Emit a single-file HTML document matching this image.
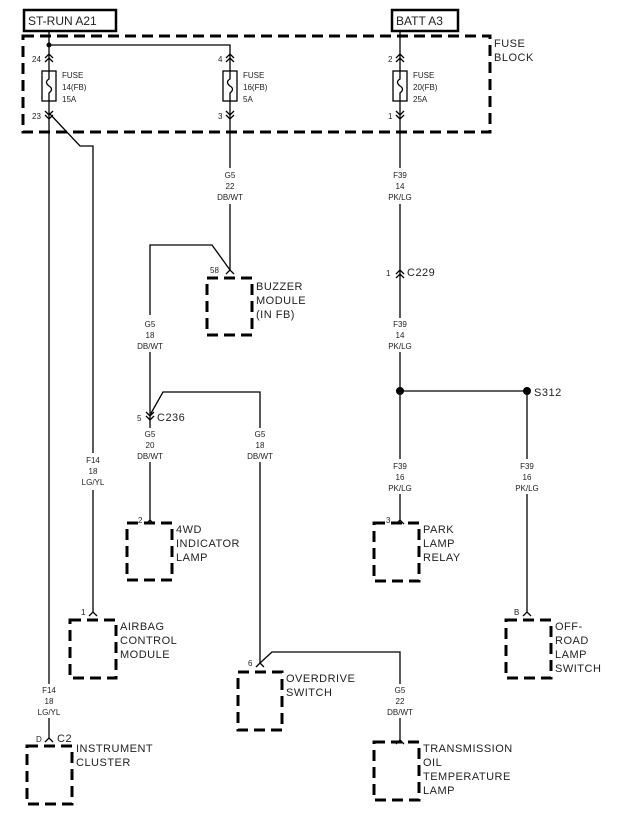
<!DOCTYPE html>
<html><head><meta charset="utf-8"><style>
html,body{margin:0;padding:0;background:#fff}
svg{display:block}
text{font-family:"Liberation Sans",sans-serif;fill:#222}
.s{font-size:8px}
.b{font-size:11px;letter-spacing:0.5px}
</style></head><body>
<svg width="640" height="837" viewBox="0 0 640 837" xmlns="http://www.w3.org/2000/svg">
<g fill="none" stroke="#000">
<rect x="24" y="10" width="92" height="21" stroke-width="2.5"/>
<rect x="392" y="10" width="66" height="21" stroke-width="2.5"/>
<rect x="23" y="36" width="467" height="96" stroke-width="3" stroke-dasharray="11,6"/>
<g stroke-width="1.3">
<polyline points="49,31 49,45 230,45 230,71"/>
<line x1="49" y1="45" x2="49" y2="71"/>
<line x1="49" y1="101" x2="49" y2="684"/>
<line x1="49" y1="718" x2="49" y2="738"/>
<line x1="230" y1="101" x2="230" y2="168"/>
<line x1="400" y1="31" x2="400" y2="71"/>
<line x1="400" y1="101" x2="400" y2="168"/>
<polyline points="49,113 80,146 93,146 93,453"/>
<line x1="93" y1="490" x2="93" y2="612"/>
<line x1="230" y1="204" x2="230" y2="270"/>
<polyline points="230,270 212,245 150,245 150,315"/>
<line x1="150" y1="352" x2="150" y2="428"/>
<polyline points="150,415 163,392 260,392 260,428"/>
<line x1="260" y1="462" x2="260" y2="663"/>
<polyline points="260,663 272,652 400,652 400,684"/>
<line x1="400" y1="718" x2="400" y2="740"/>
<line x1="150" y1="462" x2="150" y2="520"/>
<line x1="400" y1="204" x2="400" y2="318"/>
<line x1="400" y1="352" x2="400" y2="459"/>
<line x1="400" y1="391" x2="527" y2="391"/>
<line x1="527" y1="391" x2="527" y2="459"/>
<line x1="400" y1="494" x2="400" y2="520"/>
<line x1="527" y1="494" x2="527" y2="612"/>
</g>
</g>
<g fill="none" stroke="#000" stroke-width="1.3">
<rect x="42" y="71" width="14" height="30" fill="#fff"/>
<rect x="223" y="71" width="14" height="30" fill="#fff"/>
<rect x="393" y="71" width="14" height="30" fill="#fff"/>
<path d="M49,71 v8 q-5,3 0,7 q5,3 0,7 v8"/>
<path d="M230,71 v8 q-5,3 0,7 q5,3 0,7 v8"/>
<path d="M400,71 v8 q-5,3 0,7 q5,3 0,7 v8"/>
<path d="M45,58 l4,-4 l4,4 M45,62 l4,-4 l4,4"/>
<path d="M226,58 l4,-4 l4,4 M226,62 l4,-4 l4,4"/>
<path d="M396,58 l4,-4 l4,4 M396,62 l4,-4 l4,4"/>
<path d="M396,274 l4,-4 l4,4 M396,278 l4,-4 l4,4"/>
<path d="M45,111 l4,4 l4,-4 M45,115 l4,4 l4,-4"/>
<path d="M226,111 l4,4 l4,-4 M226,115 l4,4 l4,-4"/>
<path d="M396,111 l4,4 l4,-4 M396,115 l4,4 l4,-4"/>
<path d="M146,412 l4,4 l4,-4 M146,416 l4,4 l4,-4"/>
<path d="M226,274 l4,-4 l4,4"/>
<path d="M146,524 l4,-4 l4,4"/>
<path d="M89,616 l4,-4 l4,4"/>
<path d="M45,742 l4,-4 l4,4"/>
<path d="M256,667 l4,-4 l4,4"/>
<path d="M396,744 l4,-4 l4,4"/>
<path d="M396,524 l4,-4 l4,4"/>
<path d="M523,616 l4,-4 l4,4"/>
</g>
<g fill="none" stroke="#000" stroke-width="3" stroke-dasharray="11,6">
<rect x="207" y="278" width="45" height="57"/>
<rect x="127" y="523" width="45" height="57"/>
<rect x="70" y="620" width="46" height="58"/>
<rect x="27" y="746" width="45" height="58"/>
<rect x="238" y="672" width="44" height="58"/>
<rect x="374" y="742" width="45" height="58"/>
<rect x="374" y="523" width="45" height="58"/>
<rect x="506" y="620" width="45" height="58"/>
</g>
<circle cx="49" cy="45" r="2.5" fill="#000"/>
<circle cx="400" cy="391" r="4" fill="#000"/>
<circle cx="527" cy="391" r="4" fill="#000"/>

<text x="28" y="25" style="font-size:12px">ST-RUN A21</text>
<text x="396" y="25" style="font-size:12px">BATT A3</text>
<text class="b" x="494" y="47">FUSE</text>
<text class="b" x="494" y="61">BLOCK</text>

<g class="s">
<text x="32" y="62">24</text><text x="218" y="62">4</text><text x="388" y="62">2</text>
<text x="32" y="119">23</text><text x="218" y="119">3</text><text x="388" y="119">1</text>
<text x="62" y="78">FUSE</text><text x="62" y="90">14(FB)</text><text x="62" y="102">15A</text>
<text x="243" y="78">FUSE</text><text x="243" y="90">16(FB)</text><text x="243" y="102">5A</text>
<text x="413" y="78">FUSE</text><text x="413" y="90">20(FB)</text><text x="413" y="102">25A</text>
</g>
<g class="s" text-anchor="middle">
<text x="230" y="178">G5</text><text x="230" y="189">22</text><text x="230" y="200">DB/WT</text>
<text x="400" y="178">F39</text><text x="400" y="189">14</text><text x="400" y="200">PK/LG</text>
<text x="150" y="327">G5</text><text x="150" y="338">18</text><text x="150" y="349">DB/WT</text>
<text x="400" y="327">F39</text><text x="400" y="338">14</text><text x="400" y="349">PK/LG</text>
<text x="150" y="437">G5</text><text x="150" y="448">20</text><text x="150" y="459">DB/WT</text>
<text x="260" y="437">G5</text><text x="260" y="448">18</text><text x="260" y="459">DB/WT</text>
<text x="93" y="463">F14</text><text x="93" y="474">18</text><text x="93" y="485">LG/YL</text>
<text x="400" y="469">F39</text><text x="400" y="480">16</text><text x="400" y="491">PK/LG</text>
<text x="527" y="469">F39</text><text x="527" y="480">16</text><text x="527" y="491">PK/LG</text>
<text x="49" y="693">F14</text><text x="49" y="704">18</text><text x="49" y="715">LG/YL</text>
<text x="400" y="693">G5</text><text x="400" y="704">22</text><text x="400" y="715">DB/WT</text>
</g>
<g class="s">
<text x="210" y="273">58</text>
<text x="137" y="421">5</text>
<text x="138" y="523">2</text>
<text x="81" y="615">1</text>
<text x="36" y="742">D</text>
<text x="248" y="666">6</text>
<text x="386" y="523">3</text>
<text x="514" y="615">B</text>
<text x="386" y="276">1</text>
</g>
<g class="b">
<text x="407" y="276">C229</text>
<text x="157" y="421">C236</text>
<text x="534" y="396">S312</text>
<text x="57" y="742">C2</text>
<text x="256" y="290">BUZZER</text><text x="256" y="304">MODULE</text><text x="256" y="318">(IN FB)</text>
<text x="176" y="533">4WD</text><text x="176" y="547">INDICATOR</text><text x="176" y="561">LAMP</text>
<text x="120" y="630">AIRBAG</text><text x="120" y="644">CONTROL</text><text x="120" y="658">MODULE</text>
<text x="76" y="752">INSTRUMENT</text><text x="76" y="766">CLUSTER</text>
<text x="286" y="682">OVERDRIVE</text><text x="286" y="696">SWITCH</text>
<text x="423" y="752">TRANSMISSION</text><text x="423" y="766">OIL</text><text x="423" y="780">TEMPERATURE</text><text x="423" y="794">LAMP</text>
<text x="423" y="533">PARK</text><text x="423" y="547">LAMP</text><text x="423" y="561">RELAY</text>
<text x="555" y="630">OFF-</text><text x="555" y="644">ROAD</text><text x="555" y="658">LAMP</text><text x="555" y="672">SWITCH</text>
</g>
</svg>
</body></html>
